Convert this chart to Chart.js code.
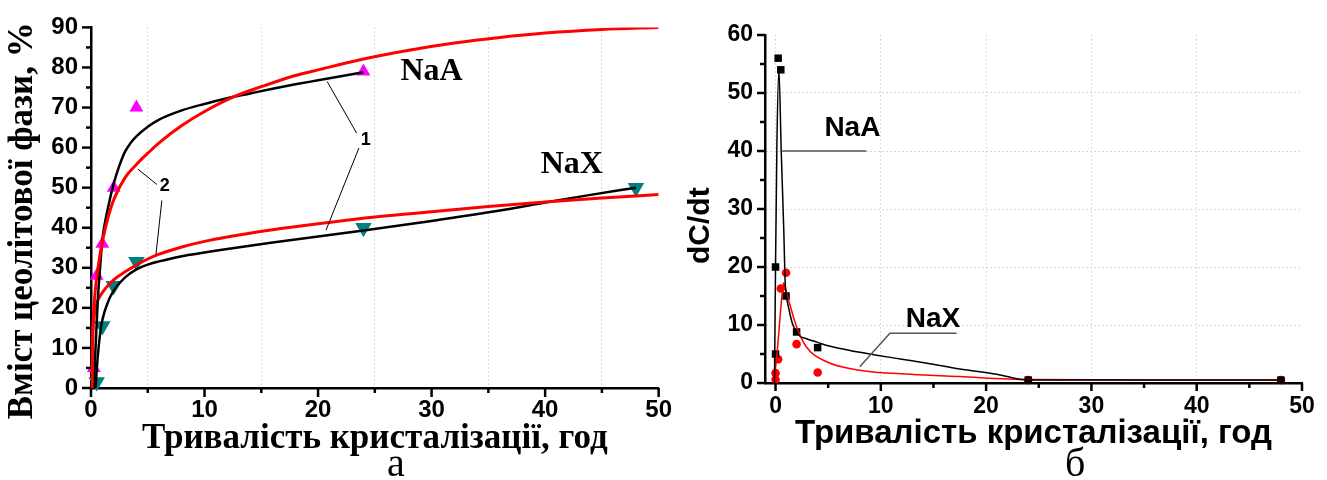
<!DOCTYPE html>
<html><head><meta charset="utf-8">
<script src="https://cdn.jsdelivr.net/npm/chart.js@4.4.1/dist/chart.umd.min.js"></script>
<style>
html,body{margin:0;padding:0;background:#fff;width:1327px;height:480px;overflow:hidden;position:relative}
#wa{position:absolute;left:0;top:0;width:680px;height:480px}
#wb{position:absolute;left:680px;top:0;width:647px;height:480px}
.cap{position:absolute;font-family:"Liberation Serif","Times New Roman",serif;font-size:40px;line-height:40px;color:#000}
</style></head><body>
<div id="wa"><canvas id="ca" width="680" height="480"></canvas></div>
<div id="wb"><canvas id="cb" width="647" height="480"></canvas></div>
<div class="cap" style="left:387px;top:443px">а</div>
<div class="cap" style="left:1065px;top:443px">б</div>
<script>
// ---------- Panel а : zeolite phase content vs time ----------
const A_X_TICKS = [0,5,10,15,20,25,30,35,40,45,50];
const A_Y_TICKS = [0,5,10,15,20,25,30,35,40,45,50,55,60,65,70,75,80,85,90];
// experimental points
const NAA_T = [0.25, 0.5, 1, 2, 4, 24];
const NAA_C = [5, 28, 36, 50, 70, 79];
const NAX_T = [0.5, 1, 2, 4, 24, 48];
const NAX_C = [1.5, 15.5, 25.5, 31.5, 40, 50];
// curve 1 (black) NaA
const FIT1_NAA_T = [0.25,0.4,0.6,0.8,1,1.5,2,2.5,3,3.5,4,5,6,8,10,12,14,16,18,20,22,24];
const FIT1_NAA_C = [0,10,22,30,37,45,51,55.5,59,61.2,62.8,65.2,67,69.3,70.9,72.3,73.5,74.7,75.8,76.8,77.8,78.8];
// curve 2 (red) NaA
const FIT2_NAA_T = [0.1,0.13,0.2,0.35,0.5,0.75,1,1.5,2,3,4,5,6,8,10,12.5,15,18,20,24,28,32,36,40,45,50];
const FIT2_NAA_C = [0,10,17,23.5,27.5,32.5,36.5,42.5,47,52.5,55.8,58.6,61.2,65.5,69,72.6,75.2,78,79.4,82.1,84.3,86.1,87.5,88.6,89.5,90];
// curve 1 (black) NaX
const FIT1_NAX_T = [0.4,0.6,0.8,1,1.5,2,3,4,5,6,8,10,12,16,20,24,30,36,40,44,48];
const FIT1_NAX_C = [0,8,13.5,17,21.5,24.3,27.6,29.6,30.8,31.6,32.9,33.8,34.7,36.3,37.8,39.3,41.7,44.3,46.3,48.2,50];
// curve 2 (red) NaX
const FIT2_NAX_T = [0.1,0.13,0.25,0.5,1,2,3,4,5,6,8,10,12,16,20,25,30,35,40,45,50];
const FIT2_NAX_C = [0,10,17,21,23.8,27,29,30.7,32.2,33.4,35.2,36.6,37.7,39.5,41,42.7,44,45.3,46.4,47.4,48.3];

// ---------- Panel б : dC/dt vs time ----------
const B_X_TICKS = [0,5,10,15,20,25,30,35,40,45,50];
const B_Y_TICKS = [0,5,10,15,20,25,30,35,40,45,50,55,60];
const RATE_NAA_T = [0, 0, 0.25, 0.5, 1, 2, 4, 24, 48];
const RATE_NAA_V = [20, 5, 56, 54, 15, 8.8, 6.1, 0.5, 0.5];
const RATE_NAX_T = [0, 0, 0.25, 0.5, 1, 2, 4, 24, 48];
const RATE_NAX_V = [1.7, 0.6, 4.1, 16.3, 19, 6.7, 1.8, 0.5, 0.5];
const RFIT_NAA_T = [-0.1,0,0.13,0.32,0.54,0.79,0.9,1,1.3,1.65,2.3,3,4,4.8,6,8,9.6,12,14.4,17.5,21,24,36,48];
const RFIT_NAA_V = [0,20,41,54,40,26,18,15.5,12.5,10,8.1,7.6,7,6.5,6,5.3,4.8,4.1,3.4,2.4,1.5,0.5,0.5,0.5];
const RFIT_NAX_T = [-0.25,-0.1,0.2,0.54,0.76,0.9,1.33,2,2.9,4.8,8,12.8,17.5,24,36,48];
const RFIT_NAX_V = [0,1.1,6.3,13.7,17.3,16.5,13.7,9.7,6.3,3.7,2.2,1.5,1.1,0.6,0.5,0.5];

const SANS = '"Liberation Sans", Arial, sans-serif';
const SERIF = '"Liberation Serif", "Times New Roman", serif';
const GRID = '#cfcfcf';
const NB = '\u00A0';

const pts = (xs, ys) => xs.map((x, i) => ({x, y: ys[i]}));

function decor(major, minor, xTicks, yTicks, lines, texts) {
  return {
    id: 'decor',
    afterDatasetsDraw(chart) {
      const ctx = chart.ctx, xs = chart.scales.x, ys = chart.scales.y;
      const area = chart.chartArea;
      const X = v => xs.getPixelForValue(v), Y = v => ys.getPixelForValue(v);
      ctx.save();
      ctx.setLineDash([]);
      // tick marks (major longer, minor shorter), pointing outward
      ctx.strokeStyle = '#000';
      ctx.lineWidth = 2.5;
      xTicks.forEach(v => {
        const len = (v % 10 === 0) ? major : minor;
        const p = X(v);
        ctx.beginPath(); ctx.moveTo(p, area.bottom); ctx.lineTo(p, area.bottom + len); ctx.stroke();
      });
      yTicks.forEach(v => {
        const len = (v % 10 === 0) ? major : minor;
        const p = Y(v);
        ctx.beginPath(); ctx.moveTo(area.left, p); ctx.lineTo(area.left - len, p); ctx.stroke();
      });
      lines.forEach(l => {
        ctx.strokeStyle = l.color; ctx.lineWidth = l.width;
        ctx.beginPath();
        l.pts.forEach((p, i) => i ? ctx.lineTo(X(p[0]), Y(p[1])) : ctx.moveTo(X(p[0]), Y(p[1])));
        ctx.stroke();
      });
      texts.forEach(t => {
        ctx.fillStyle = '#000'; ctx.font = t.font;
        ctx.textAlign = 'center'; ctx.textBaseline = 'middle';
        ctx.fillText(t.text, X(t.x), Y(t.y));
      });
      ctx.restore();
    }
  };
}

function curve(data, color, width) {
  return {data, showLine: true, borderColor: color, borderWidth: width, pointRadius: 0,
          pointHoverRadius: 0, cubicInterpolationMode: 'monotone', fill: false};
}
function marks(data, color, style, r, rot) {
  return {data, showLine: false, pointStyle: style, pointRadius: r, pointRotation: rot || 0,
          backgroundColor: color, borderColor: color, borderWidth: 0, clip: false};
}

function axis(ticksArr, min, max, fitKey, fitVal, tickFont, tickPad, title, gridCb) {
  return {
    type: 'linear', min, max,
    afterBuildTicks: s => { s.ticks = ticksArr.map(v => ({value: v})); },
    afterFit: s => { s[fitKey] = fitVal; },
    grid: {drawTicks: false, lineWidth: 1, color: gridCb},
    border: {display: true, color: '#000', width: 2.5, dash: [1.5, 2.5]},
    ticks: {padding: tickPad, color: '#000', font: tickFont,
            callback: v => (v % 10 === 0 ? String(v) : '')},
    title
  };
}

// ---- chart а ----
new Chart(document.getElementById('ca'), {
  type: 'scatter',
  data: {datasets: [
    curve(pts(FIT2_NAA_T, FIT2_NAA_C), '#ff0000', 3),
    curve(pts(FIT1_NAA_T, FIT1_NAA_C), '#000000', 2.5),
    curve(pts(FIT2_NAX_T, FIT2_NAX_C), '#ff0000', 3),
    curve(pts(FIT1_NAX_T, FIT1_NAX_C), '#000000', 2.5),
    marks(pts(NAA_T, NAA_C), '#ff00ff', 'triangle', 8, 0),
    marks(pts(NAX_T, NAX_C), '#008080', 'triangle', 9.5, 180)
  ]},
  options: {
    responsive: false, animation: false, devicePixelRatio: 1,
    layout: {padding: {left: 0, top: 23, right: 19, bottom: 0}},
    plugins: {legend: {display: false}, tooltip: {enabled: false}},
    scales: {
      x: axis(A_X_TICKS, 0, 50, 'height', 92, {family: SANS, size: 24, weight: 'bold'}, 8,
        {display: true, text: 'Тривалість кристалізації, год', color: '#000',
         font: {family: SERIF, size: 35, weight: 'bold'}, padding: {top: 0, bottom: 20}},
        c => (c.tick && c.tick.value % 10 === 5) ? GRID : 'rgba(0,0,0,0)'),
      y: axis(A_Y_TICKS, 0, 90, 'width', 91, {family: SANS, size: 24, weight: 'bold'}, 13,
        {display: true, text: 'Вміст цеолітової фази, %' + NB + NB + NB, color: '#000',
         font: {family: SERIF, size: 35, weight: 'bold'}, padding: {top: 2, bottom: 0}},
        c => (c.tick && c.tick.value % 10 === 5) ? GRID : 'rgba(0,0,0,0)')
    }
  },
  plugins: [decor(9, 5, A_X_TICKS, A_Y_TICKS,
    [
      {color: '#000', width: 1, pts: [[20.8, 76.5], [23.4, 63.6]]},
      {color: '#000', width: 1, pts: [[23.6, 59.9], [20.7, 39.4]]},
      {color: '#000', width: 1, pts: [[4.14, 54.6], [5.8, 50.8]]},
      {color: '#000', width: 1, pts: [[6.24, 46.8], [5.72, 33.3]]}
    ],
    [
      {text: 'NaA', x: 30, y: 79, font: 'bold 32px ' + SERIF},
      {text: 'NaX', x: 42.35, y: 55.8, font: 'bold 32px ' + SERIF},
      {text: '1', x: 24.2, y: 62, font: 'bold 18px ' + SANS},
      {text: '2', x: 6.5, y: 50.4, font: 'bold 18px ' + SANS}
    ])]
});

// ---- chart б ----
new Chart(document.getElementById('cb'), {
  type: 'scatter',
  data: {datasets: [
    curve(pts(RFIT_NAA_T, RFIT_NAA_V), '#000000', 1.5),
    curve(pts(RFIT_NAX_T, RFIT_NAX_V), '#ff0000', 1.5),
    marks(pts(RATE_NAA_T, RATE_NAA_V), '#000000', 'rect', 5.3, 0),
    marks(pts(RATE_NAX_T, RATE_NAX_V), '#ff0000', 'circle', 4.3, 0)
  ]},
  options: {
    responsive: false, animation: false, devicePixelRatio: 1,
    layout: {padding: {left: 0, top: 35, right: 25, bottom: 0}},
    plugins: {legend: {display: false}, tooltip: {enabled: false}},
    scales: {
      x: axis(B_X_TICKS, -1, 50, 'height', 97, {family: SANS, size: 23, weight: 'bold'}, 10,
        {display: true, text: 'Тривалість кристалізації, год', color: '#000',
         font: {family: SANS, size: 33, weight: 'bold'}, padding: {top: 0, bottom: 26}},
        c => (c.tick && c.tick.value % 10 === 0 && c.tick.value < 50) ? GRID : 'rgba(0,0,0,0)'),
      y: axis(B_Y_TICKS, 0, 60, 'width', 85, {family: SANS, size: 23, weight: 'bold'}, 12,
        {display: true, text: 'dC/dt' + NB + NB + NB + NB, color: '#000',
         font: {family: SANS, size: 30, weight: 'bold'}, padding: {top: 3, bottom: 0}},
        c => (c.tick && c.tick.value % 10 === 0 && c.tick.value > 0 && c.tick.value < 60) ? GRID : 'rgba(0,0,0,0)')
    }
  },
  plugins: [decor(8, 5, B_X_TICKS, B_Y_TICKS,
    [
      {color: '#555', width: 1.5, pts: [[0.64, 40], [8.64, 40]]},
      {color: '#555', width: 1.5, pts: [[17.2, 8.57], [10.86, 8.57], [8, 2.8]]}
    ],
    [
      {text: 'NaA', x: 7.3, y: 44, font: 'bold 28px ' + SANS},
      {text: 'NaX', x: 14.95, y: 11, font: 'bold 28px ' + SANS}
    ])]
});
</script>
</body></html>
